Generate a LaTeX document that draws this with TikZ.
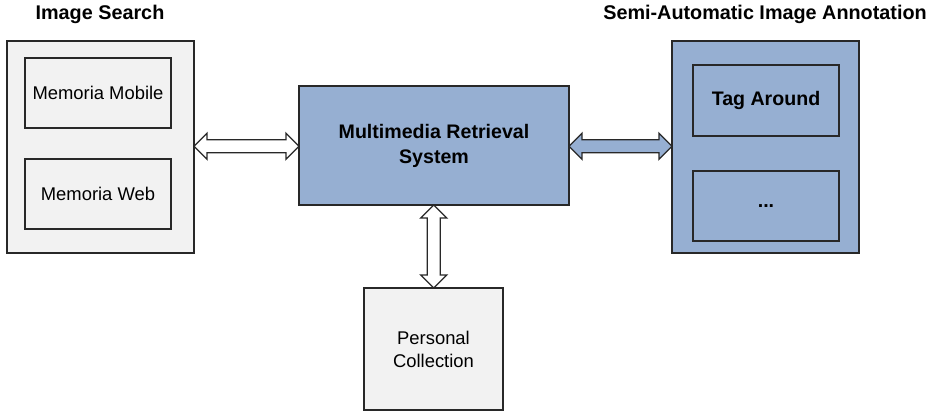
\documentclass[tikz,border=0pt]{standalone}
\usepackage{fontspec}
\setmainfont{Liberation Sans}
\usetikzlibrary{shapes.arrows}
\definecolor{boxgray}{RGB}{242,242,242}
\definecolor{boxblue}{RGB}{150,175,210}
\definecolor{edge}{RGB}{40,40,40}
\begin{document}
\begin{tikzpicture}[x=1pt,y=-1pt,
    box/.style={draw=edge, line width=1.4pt, inner sep=0pt, align=center, font=\fontsize{18.4}{23}\selectfont},
    title/.style={font=\bfseries\fontsize{19.8}{23}\selectfont},
    link/.style={double arrow, draw=edge, line width=1.3pt, inner sep=5.8pt, double arrow head extend=6.5pt, double arrow tip angle=90}]
\useasboundingbox (0,0) rectangle (935,413);

% image search
\node[title] (searchtitle) at (100,14) {Image Search};
\node[box, fill=boxgray, minimum width=187, minimum height=212] (search) at (100.5,147) {};
\node[box, fill=boxgray, minimum width=146, minimum height=70] (mobile) at (98,93) {Memoria Mobile};
\node[box, fill=boxgray, minimum width=146, minimum height=70] (web) at (98,194) {Memoria Web};

% retrieval system
\node[box, fill=boxblue, minimum width=270, minimum height=119, font=\bfseries\fontsize{19.6}{25}\selectfont] (mrs) at (434,145.5) {Multimedia Retrieval\\System};

% annotation
\node[title] (annottitle) at (765,14) {Semi-Automatic Image Annotation};
\node[box, fill=boxblue, minimum width=187, minimum height=212] (annot) at (765.5,147) {};
\node[box, fill=boxblue, minimum width=146, minimum height=71, font=\bfseries\fontsize{19.6}{23}\selectfont] (tag) at (766,100.5) {Tag Around};
\node[box, fill=boxblue, minimum width=146, minimum height=70, font=\bfseries\fontsize{19.6}{23}\selectfont] (more) at (766,206) {...};

% personal collection
\node[box, fill=boxgray, minimum width=139, minimum height=122] (pc) at (433.5,349) {Personal\\Collection};

\path (search.east) -- (mrs.west) node[midway, link, fill=white, minimum height=105] (l1) {};
\path (mrs.east) -- (annot.west) node[midway, link, fill=boxblue, minimum height=103] (l2) {};
\path (mrs.south) -- (pc.north) node[midway, link, fill=white, minimum height=83, shape border rotate=90] (l3) {};
\end{tikzpicture}
\end{document}
